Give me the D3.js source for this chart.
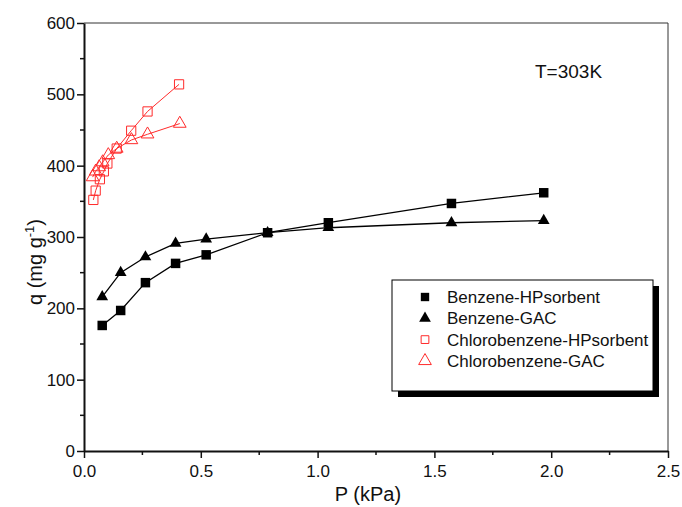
<!DOCTYPE html>
<html lang="en">
<head>
<meta charset="utf-8">
<title>Adsorption isotherms</title>
<script src="https://d3js.org/d3.v7.min.js"></script>
<style>
  body { margin: 0; background: #fff; }
  text { font-family: "Liberation Sans", Arial, sans-serif; fill: #111; }
</style>
</head>
<body>
<div id="chart"></div>
<script>
// pressure (kPa) and uptake (mg/g)
var benzeneP      = [0.078, 0.157, 0.263, 0.392, 0.523, 0.786, 1.046, 1.573, 1.968];
var benzeneHPq    = [176, 197, 236, 263, 275, 306, 320, 347, 362];
var benzeneGACq   = [216, 250, 272, 291, 297, 306, 313, 320, 323];

var chloroHPP     = [0.040, 0.050, 0.068, 0.085, 0.100, 0.140, 0.202, 0.272, 0.407];
var chloroHPq     = [352, 365, 381, 392, 403, 424, 449, 476, 514];
var chloroGACP    = [0.037, 0.050, 0.065, 0.080, 0.104, 0.140, 0.203, 0.272, 0.410];
var chloroGACq    = [384, 392, 398, 405, 415, 424, 436, 444, 459];

var seriesNames   = ["Benzene-HPsorbent", "Benzene-GAC", "Chlorobenzene-HPsorbent", "Chlorobenzene-GAC"];
var xTicks        = [0, 0.5, 1.0, 1.5, 2.0, 2.5];
var yTicks        = [0, 100, 200, 300, 400, 500, 600];

var W = 682, H = 507;
var margin = {top: 23, right: 14, bottom: 56, left: 84};
var red = "#ff2b2b";

var svg = d3.select("#chart").append("svg")
    .attr("width", W)
    .attr("height", H);

var x = d3.scaleLinear().domain([0, 2.5]).range([margin.left, W - margin.right]);
var y = d3.scaleLinear().domain([0, 600]).range([H - margin.bottom, margin.top]);

// frame: thin top/right, thick bottom/left
svg.append("line")
    .attr("x1", x(0)).attr("x2", x(2.5)).attr("y1", y(600)).attr("y2", y(600))
    .attr("stroke", "#333").attr("stroke-width", 1);
svg.append("line")
    .attr("x1", x(2.5)).attr("x2", x(2.5)).attr("y1", y(600)).attr("y2", y(0))
    .attr("stroke", "#333").attr("stroke-width", 1);

// minor ticks
var xMinor = d3.range(0.25, 2.5, 0.5);
var yMinor = d3.range(50, 600, 100);

svg.append("g").selectAll("line").data(xMinor).enter().append("line")
    .attr("x1", d => x(d)).attr("x2", d => x(d))
    .attr("y1", y(0)).attr("y2", y(0) + 4)
    .attr("stroke", "#111").attr("stroke-width", 1.5);
svg.append("g").selectAll("line").data(yMinor).enter().append("line")
    .attr("x1", x(0)).attr("x2", x(0) - 4)
    .attr("y1", d => y(d)).attr("y2", d => y(d))
    .attr("stroke", "#111").attr("stroke-width", 1.5);

// axes
var xAxis = svg.append("g")
    .attr("transform", "translate(0," + y(0) + ")")
    .call(d3.axisBottom(x).tickValues(xTicks).tickFormat(d3.format(".1f")).tickSize(7).tickSizeOuter(0));
var yAxis = svg.append("g")
    .attr("transform", "translate(" + x(0) + ",0)")
    .call(d3.axisLeft(y).tickValues(yTicks).tickSize(7).tickSizeOuter(0));

[xAxis, yAxis].forEach(function(a) {
    a.select(".domain").attr("stroke", "#111").attr("stroke-width", 2);
    a.selectAll(".tick line").attr("stroke", "#111").attr("stroke-width", 1.5);
    a.selectAll(".tick text")
        .attr("font-family", "Liberation Sans, Arial, sans-serif")
        .attr("font-size", 17)
        .attr("fill", "#111");
});
xAxis.selectAll(".tick text").attr("dy", "0.95em");
yAxis.selectAll(".tick text").attr("x", -9);

// axis titles
svg.append("text")
    .attr("x", (x(0) + x(2.5)) / 2 - 8)
    .attr("y", 501)
    .attr("text-anchor", "middle")
    .attr("font-size", 20)
    .text("P (kPa)");

var yt = svg.append("text")
    .attr("transform", "translate(42," + 262 + ") rotate(-90)")
    .attr("text-anchor", "middle")
    .attr("font-size", 20);
yt.append("tspan").text("q (mg g");
yt.append("tspan").attr("font-size", 13).attr("dy", -8).text("-1");
yt.append("tspan").attr("dy", 8).text(")");

// annotation
svg.append("text")
    .attr("x", 535)
    .attr("y", 78)
    .attr("font-size", 19)
    .text("T=303K");

var line = d3.line().x(d => x(d[0])).y(d => y(d[1]));
var sq = d3.symbol().type(d3.symbolSquare);
var tri = d3.symbol().type(d3.symbolTriangle);

function drawSeries(px, qs, color, shape, size, filled, lw) {
    var pts = px.map((p, i) => [p, qs[i]]);
    var g = svg.append("g");
    g.append("path")
        .datum(pts)
        .attr("d", line)
        .attr("fill", "none")
        .attr("stroke", color)
        .attr("stroke-width", lw);
    g.selectAll("path.pt").data(pts).enter().append("path")
        .attr("class", "pt")
        .attr("transform", d => "translate(" + x(d[0]) + "," + y(d[1]) + ")")
        .attr("d", shape.size(size)())
        .attr("fill", filled ? color : "none")
        .attr("stroke", color)
        .attr("stroke-width", filled ? 0 : 1);
}

drawSeries(benzeneP, benzeneHPq, "#000", sq, 90, true, 1.3);
drawSeries(benzeneP, benzeneGACq, "#000", tri, 60, true, 1.3);
drawSeries(chloroHPP, chloroHPq, red, sq, 85, false, 1);
drawSeries(chloroGACP, chloroGACq, red, tri, 70, false, 1);

// legend
var lg = svg.append("g").attr("transform", "translate(392,280)");
lg.append("rect").attr("x", 6).attr("y", 6).attr("width", 261).attr("height", 111).attr("fill", "#000");
lg.append("rect").attr("width", 261).attr("height", 111).attr("fill", "#fff").attr("stroke", "#000").attr("stroke-width", 1);

var legendShapes = [
    {shape: sq, size: 70, fill: "#000", stroke: "none"},
    {shape: tri, size: 60, fill: "#000", stroke: "none"},
    {shape: sq, size: 60, fill: "none", stroke: red},
    {shape: tri, size: 70, fill: "none", stroke: red}
];

var rows = lg.selectAll("g.row").data(seriesNames).enter().append("g")
    .attr("class", "row")
    .attr("transform", (d, i) => "translate(0," + (17 + i * 21.3) + ")");
rows.append("path")
    .attr("transform", "translate(33,0)")
    .attr("d", (d, i) => legendShapes[i].shape.size(legendShapes[i].size)())
    .attr("fill", (d, i) => legendShapes[i].fill)
    .attr("stroke", (d, i) => legendShapes[i].stroke);
rows.append("text")
    .attr("x", 55)
    .attr("y", 6)
    .attr("font-size", 17)
    .text(d => d);
</script>
</body>
</html>
